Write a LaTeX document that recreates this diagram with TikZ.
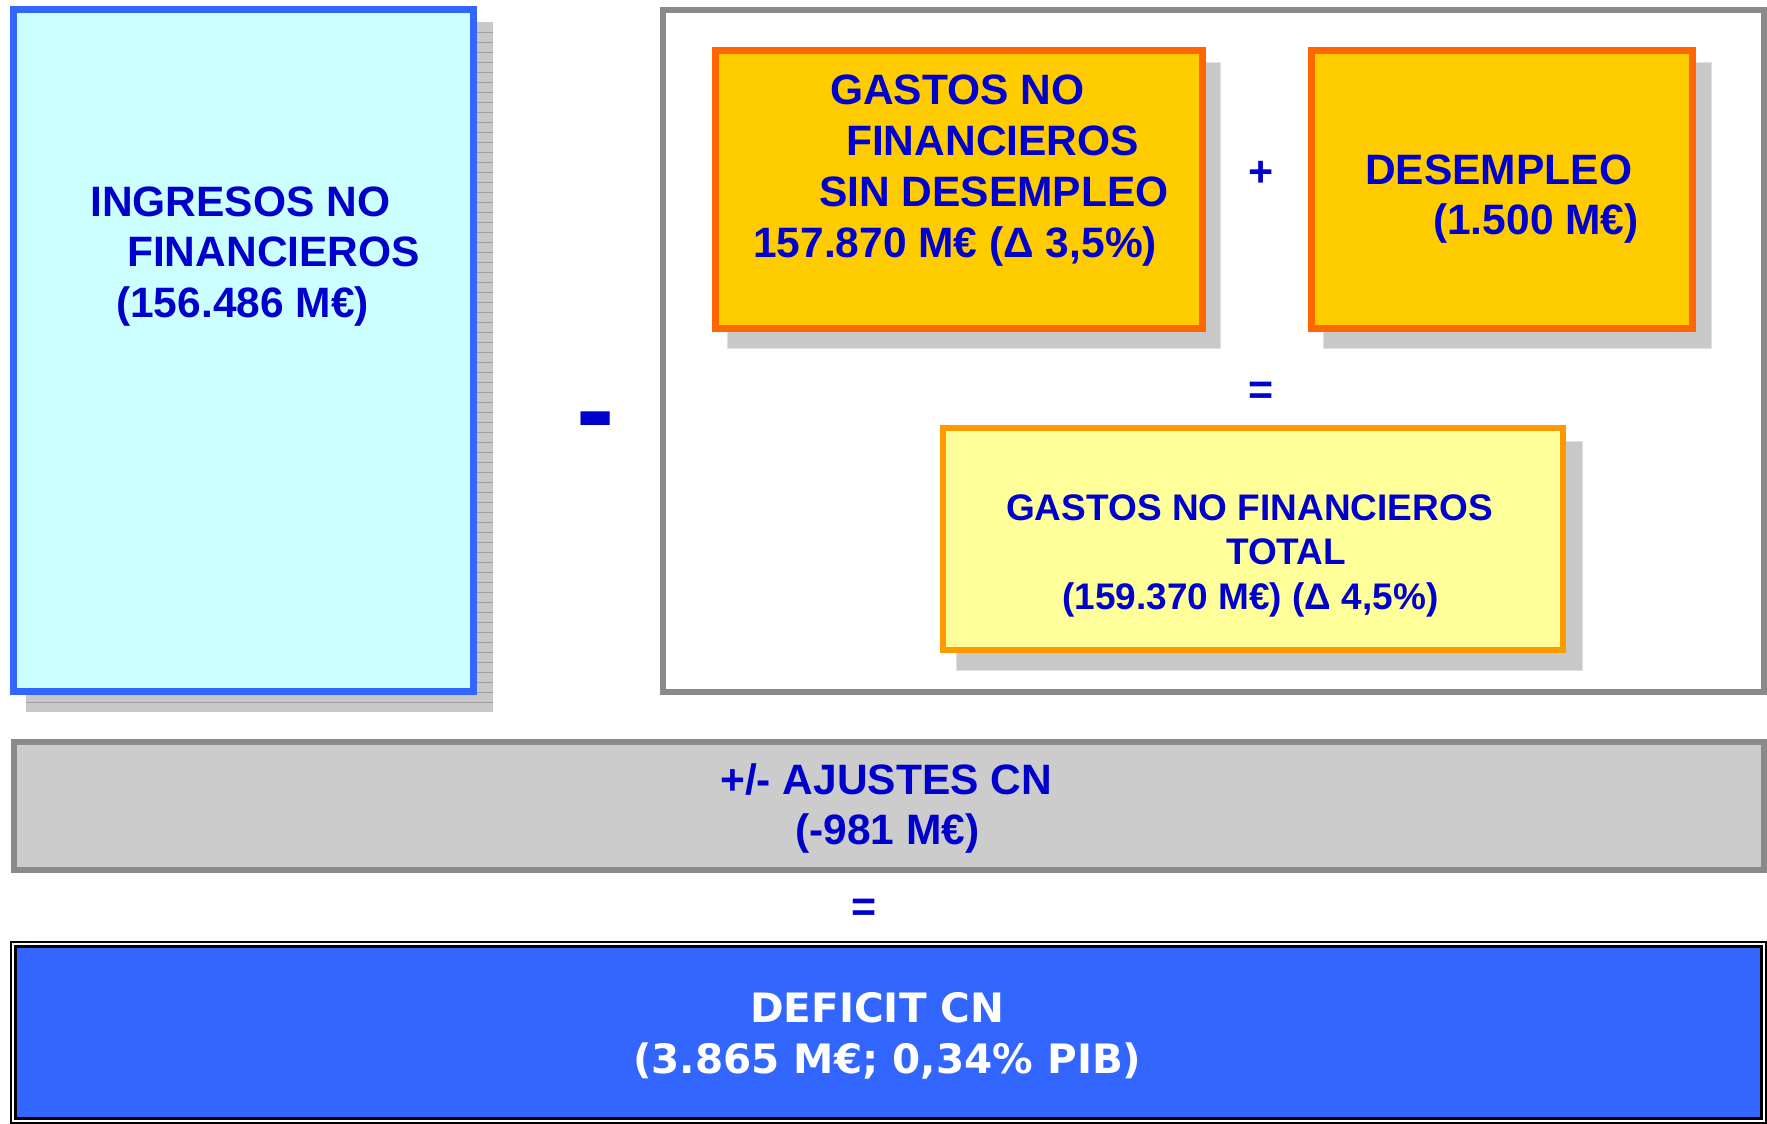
\documentclass[tikz,border=0pt]{standalone}
\usepackage{fontspec}
\setmainfont{Liberation Sans}
\newfontfamily\dejavu{DejaVu Sans}
\definecolor{cyanfill}{HTML}{CCFFFF}
\definecolor{cyanedge}{HTML}{3366FF}
\definecolor{orangefill}{HTML}{FFCC00}
\definecolor{orangeedge}{HTML}{FF6600}
\definecolor{yellowfill}{HTML}{FFFF99}
\definecolor{yellowedge}{HTML}{FF9900}
\definecolor{framegray}{HTML}{8A8A8A}
\definecolor{boxgray}{HTML}{CCCCCC}
\definecolor{deficitblue}{HTML}{3366FF}
\definecolor{txtblue}{HTML}{0000CC}
\definecolor{shadowgray}{HTML}{C8C8C8}
\definecolor{shadowedge}{HTML}{E0E0E0}
\definecolor{shadowline}{HTML}{A0A0A0}
\tikzset{
  shadowbox/.style={fill=shadowgray, draw=shadowedge, line width=1pt},
  cyanbox/.style={fill=cyanfill, draw=cyanedge, line width=7pt},
  orangebox/.style={fill=orangefill, draw=orangeedge, line width=7pt},
  yellowbox/.style={fill=yellowfill, draw=yellowedge, line width=6pt},
  framebox/.style={fill=white, draw=framegray, line width=6pt},
  graybox/.style={fill=boxgray, draw=framegray, line width=6pt},
  txt/.style={inner sep=0pt, anchor=base west, text=txtblue,
    font=\bfseries\fontsize{42.5}{50.5}\selectfont},
  smalltxt/.style={txt, font=\bfseries\fontsize{37}{44.5}\selectfont},
  whitetxt/.style={inner sep=0pt, anchor=base west, text=white,
    font=\dejavu\bfseries\fontsize{40.5}{51}\selectfont},
  sym/.style={inner sep=0pt, anchor=center, text=txtblue,
    font=\bfseries\fontsize{43}{50}\selectfont},
}
\begin{document}
\begin{tikzpicture}[x=1pt,y=-1pt]
\useasboundingbox (0,0) rectangle (1767,1124);
\fill[white] (0,0) rectangle (1767,1124);

% left box: ingresos
\fill[shadowgray] (26,22) rectangle (493,712);
\foreach \yy in {32,42,...,702} \draw[shadowline, line width=0.8pt] (26,\yy) -- (493,\yy);
\draw[cyanbox] (13.5,9.5) rectangle (473.5,691.5);
\node[txt] (ingresos) at (90,216) {\vtop{\hbox{INGRESOS NO}\hbox{\kern37pt FINANCIEROS}\hbox{\kern26pt (156.486 M€)}}};

% minus
\node[sym, font=\bfseries\fontsize{115}{120}\selectfont] (minus) at (596,430) {-};

% right frame
\draw[framebox] (663,10) rectangle (1764,692);

% gastos sin desempleo
\draw[shadowbox] (727,63) rectangle (1220,348);
\draw[orangebox] (715.5,50.5) rectangle (1202.5,328.5);
\node[txt] (gastos) at (753,104) {\vtop{\baselineskip=51.3pt\hbox{\kern77pt GASTOS NO}\hbox{\kern93pt FINANCIEROS}\hbox{\kern66pt SIN DESEMPLEO}\hbox{157.870 M€ (Δ 3,5\%)}}};

% plus
\node[sym] (plus) at (1261,174) {+};

% desempleo
\draw[shadowbox] (1323,63) rectangle (1711,348);
\draw[orangebox] (1311.5,50.5) rectangle (1692.5,328.5);
\node[txt] (desempleo) at (1365,184) {\vtop{\baselineskip=50pt\hbox{DESEMPLEO}\hbox{\kern68pt (1.500 M€)}}};

% equals
\node[sym] (eqa) at (1261,393) {=};

% total
\draw[shadowbox] (956,441) rectangle (1582,670);
\draw[yellowbox] (943,428) rectangle (1563,650);
\node[smalltxt] (total) at (1006,520) {\vtop{\hbox{GASTOS NO FINANCIEROS}\hbox{\kern220pt TOTAL}\hbox{\kern56pt (159.370 M€) (Δ 4,5\%)}}};

% ajustes
\draw[graybox] (14,742) rectangle (1764,870);
\node[txt] (ajustes) at (720,794) {\vtop{\hbox{+/- AJUSTES CN}\hbox{\kern75pt (-981 M€)}}};

% equals
\node[sym] (eqb) at (864,910) {=};

% deficit
\fill[deficitblue] (10,941) rectangle (1767,1124);
\draw[black, line width=2pt] (11,942) rectangle (1766,1123);
\draw[white, line width=2pt] (13,944) rectangle (1764,1121);
\draw[black, line width=3pt] (15.5,946.5) rectangle (1761.5,1118.5);
\node[whitetxt] (deficit) at (633,1022) {\vtop{\hbox{\kern117pt DEFICIT CN}\hbox{(3.865 M€; 0,34\% PIB)}}};
\end{tikzpicture}
\end{document}
